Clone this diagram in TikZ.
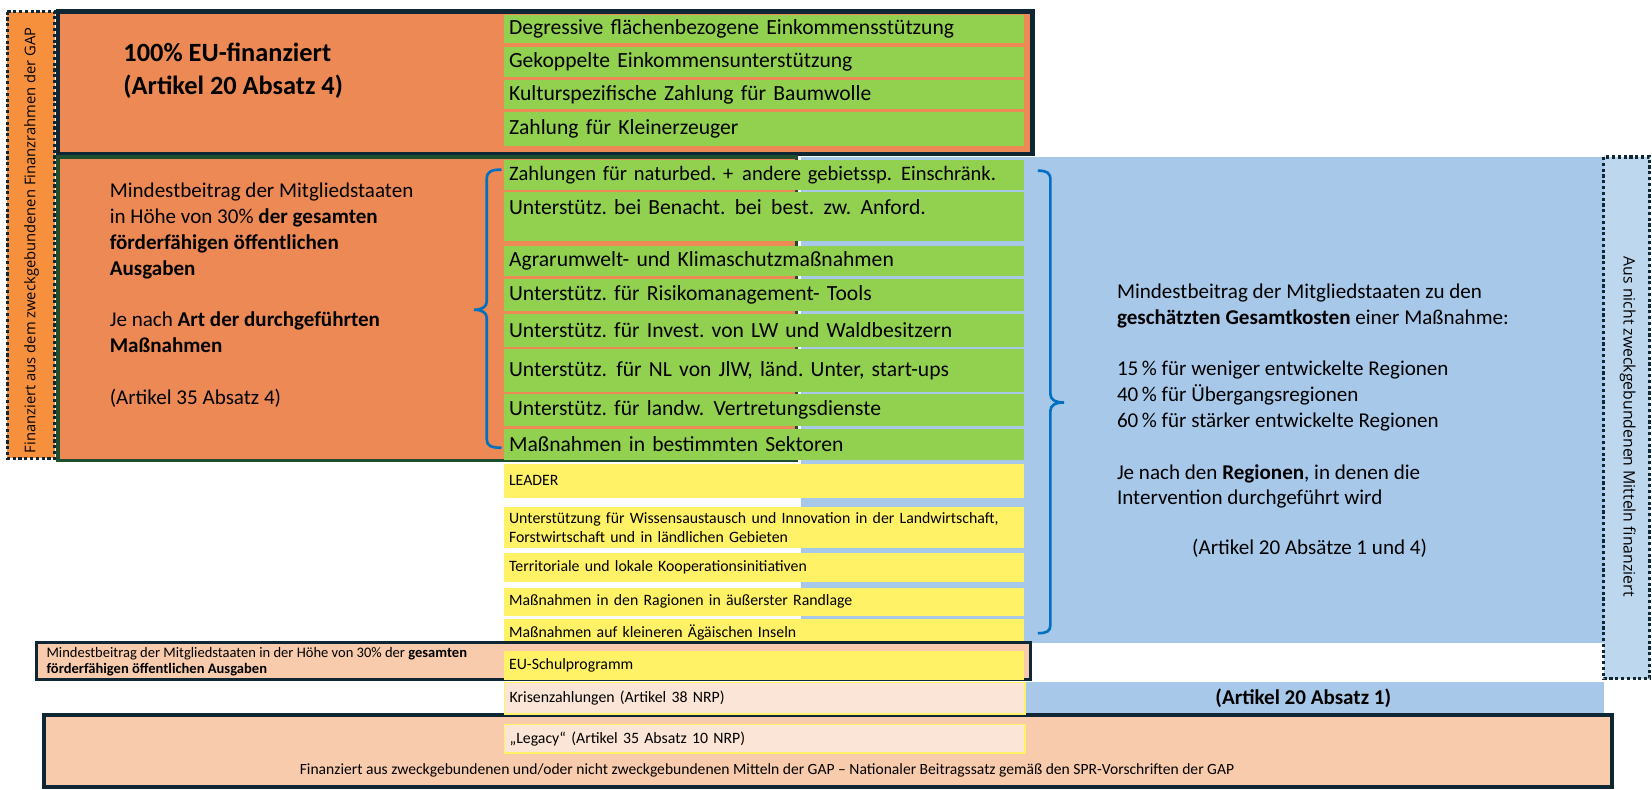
\documentclass[tikz,border=0pt]{standalone}
\usepackage{fontspec}
\setmainfont{Carlito}
\newfontfamily\stripFont{Open Sans}

\definecolor{panelOrange}{RGB}{237,137,85}
\definecolor{stripOrange}{RGB}{246,144,60}
\definecolor{navy}{RGB}{15,38,52}
\definecolor{darkGreen}{RGB}{30,78,46}
\definecolor{boxGreen}{RGB}{146,208,80}
\definecolor{boxYellow}{RGB}{255,242,102}
\definecolor{regionBlue}{RGB}{167,200,233}
\definecolor{stripBlue}{RGB}{189,215,238}
\definecolor{salmon}{RGB}{248,203,173}
\definecolor{paleSalmon}{RGB}{251,229,214}
\definecolor{braceBlue}{RGB}{0,112,192}

\providecommand*{\colL}{}
\providecommand*{\blueL}{}
\providecommand*{\blueR}{}
\renewcommand*{\colL}{478}
\renewcommand*{\blueL}{760}
\renewcommand*{\blueR}{1522}

\newcommand*{\greenFont}{\fontsize{20.5}{24.5}\selectfont}
\newcommand*{\panelFont}{\fontsize{20}{24.5}\selectfont}
\newcommand*{\yellowFont}{\fontsize{15}{18}\selectfont}
\newcommand*{\smallFont}{\fontsize{13.8}{16}\selectfont}
% wider gap as in the source
\newcommand*{\gap}{\kern2pt\ }

\begin{document}
\frenchspacing
\hyphenpenalty=10000
\begin{tikzpicture}[x=1pt,y=-1pt,
  frame/.style={draw=navy,line width=4pt},
  dotframe/.style={draw=navy,line width=3pt,dash pattern=on 3pt off 2.5pt},
  gbox/.style={anchor=north west,fill=boxGreen,inner xsep=5pt,inner ysep=0pt,
    text width=484pt,align=left,font=\greenFont,minimum height=#1pt},
  ybox/.style={gbox=#1,fill=boxYellow,font=\yellowFont},
  pbox/.style={gbox=#1,fill=paleSalmon,draw=boxYellow,line width=1.5pt,font=\yellowFont},
  curly/.style={draw=braceBlue,line width=2.5pt}]
  \useasboundingbox (0,0) rectangle (1568,749);

%left strip
  \path[dotframe,fill=stripOrange] (7,11) rectangle (52,435);
  \node[rotate=90,font=\stripFont\fontsize{14}{16}\selectfont] (gapFin) at (30,228)
    {Finanziert aus dem zweckgebundenen Finanzrahmen der GAP};
%First block (100% EU)
  \path[frame,fill=panelOrange] (55,11) rectangle (980,146);
  \node[anchor=west,align=left,inner sep=0pt,font=\fontsize{25}{31}\selectfont\bfseries] (euText) at (117,67)
    {100\% EU-finanziert\\(Artikel 20 Absatz 4)};
  \node[gbox=27] (dg) at (\colL,14) {Degressive flächenbezogene Einkommensstützung};
  \node[gbox=29] (gk) at (\colL,44) {Gekoppelte Einkommensunterstützung};
  \node[gbox=27] (kb) at (\colL,76) {Kulturspezifische Zahlung für Baumwolle};
  \node[gbox=32] (kl) at (\colL,106) {Zahlung für Kleinerzeuger};

%Second block (30%)
  \path[fill=regionBlue] (\blueL,149) rectangle (\blueR,610);
  \path[draw=darkGreen,line width=3pt,fill=panelOrange] (55,149) rectangle (756,437);
  \path[dotframe,fill=stripBlue] (\blueR,149) rectangle (1566,644);
  \node[rotate=-90,font=\stripFont\fontsize{15}{17}\selectfont] (nonFin) at (1545,405)
    {Aus nicht zweckgebundenen Mitteln finanziert};
  \node[anchor=west,align=left,inner sep=0pt,font=\panelFont] (minLeft) at (104,280)
    {Mindestbeitrag der Mitgliedstaaten\\in Höhe von 30\% \textbf{der gesamten}\\
     \textbf{förderfähigen öffentlichen}\\\textbf{Ausgaben}\\[24.5pt]
     Je nach \textbf{Art der durchgeführten}\\\textbf{Maßnahmen}\\[24.5pt]
     (Artikel 35 Absatz 4)};
  \node[gbox=28,font=\fontsize{19.5}{24}\selectfont] (nb) at (\colL,152)
    {\mbox{Zahlungen für naturbed. +\gap andere gebietssp.\gap Einschränk.}};
  \node[gbox=47,text depth=18pt] (bn) at (\colL,182) {Unterstütz. bei Benacht.\gap bei\gap best.\gap zw.\gap Anford.};
  \node[gbox=29] (ak) at (\colL,233) {Agrarumwelt- und Klimaschutzmaßnahmen};
  \node[gbox=30] (rm) at (\colL,265) {Unterstütz. für Risikomanagement- Tools};
  \node[gbox=31] (iv) at (\colL,298) {Unterstütz. für Invest. von LW und Waldbesitzern};
  \node[gbox=41] (nl) at (\colL,331) {Unterstütz.\gap für NL von JlW, länd. Unter, start-ups};
  \node[gbox=30] (vd) at (\colL,374) {Unterstütz. für landw.\gap Vertretungsdienste};
  \node[gbox=29] (ms) at (\colL,407) {Maßnahmen in bestimmten Sektoren};

%Third block (regions)
  \node[anchor=west,align=left,inner sep=0pt,font=\panelFont] (minRight) at (1060,376)
    {Mindestbeitrag der Mitgliedstaaten zu den\\\textbf{geschätzten Gesamtkosten} einer Maßnahme:\\[24.5pt]
     15\,\% für weniger entwickelte Regionen\\40\,\% für Übergangsregionen\\
     60\,\% für stärker entwickelte Regionen\\[24.5pt]
     Je nach den \textbf{Regionen}, in denen die\\Intervention durchgeführt wird};
  \node[font=\panelFont] (art20) at (1243,520) {(Artikel 20 Absätze 1 und 4)};
  \node[ybox=32] (ld) at (\colL,440) {LEADER};
  \node[ybox=39] (wi) at (\colL,481)
    {Unterstützung für Wissensaustausch und Innovation in der Landwirtschaft,\\Forstwirtschaft und in ländlichen Gebieten};
  \node[ybox=27] (tk) at (\colL,525) {Territoriale und lokale Kooperationsinitiativen};
  \node[ybox=26] (rg) at (\colL,558) {Maßnahmen in den Ragionen in äußerster Randlage};
  \node[ybox=27] (ai) at (\colL,587) {Maßnahmen auf kleineren Ägäischen Inseln};

%school programme
  \path[draw=navy,line width=3pt,fill=salmon] (35,610) rectangle (978,645);
  \node[anchor=west,align=left,inner sep=0pt,font=\smallFont] (minSmall) at (44,628)
    {Mindestbeitrag der Mitgliedstaaten in der Höhe von 30\% der \textbf{gesamten}\\
     \textbf{förderfähigen öffentlichen Ausgaben}};
  \node[ybox=27] (sp) at (\colL,618) {EU-Schulprogramm};

%crisis + legacy
  \path[fill=regionBlue] (\blueL,647) rectangle (\blueR,677);
  \node[font=\fontsize{20}{24}\selectfont\bfseries] (art20a1) at (1237,663) {(Artikel 20 Absatz 1)};
  \path[frame,fill=salmon] (42,679) rectangle (1530,747);
  \node[pbox=30] (kz) at (\colL,647) {Krisenzahlungen (Artikel 38 NRP)};
  \node[pbox=27] (lg) at (\colL,687) {„Legacy“ (Artikel 35 Absatz 10 NRP)};
  \node[font=\fontsize{14.8}{17}\selectfont] (finBottom) at (728,731)
    {Finanziert aus zweckgebundenen und/oder nicht zweckgebundenen Mitteln der GAP – Nationaler Beitragssatz gemäß den SPR-Vorschriften der GAP};

%braces
  \draw[curly] (476,161) .. controls (466,161) and (462,163) .. (462,170) -- (462,286)
    .. controls (462,291) and (458,294) .. (450,294) .. controls (458,294) and (462,297) .. (462,302)
    -- (462,417) .. controls (462,423) and (466,425) .. (476,425);
  \draw[curly] (985,162) .. controls (994,162) and (997,164) .. (997,171) -- (997,374)
    .. controls (997,379) and (1001,382) .. (1010,382) .. controls (1001,382) and (997,385) .. (997,390)
    -- (997,593) .. controls (997,599) and (994,601) .. (985,601);
\end{tikzpicture}
\end{document}
